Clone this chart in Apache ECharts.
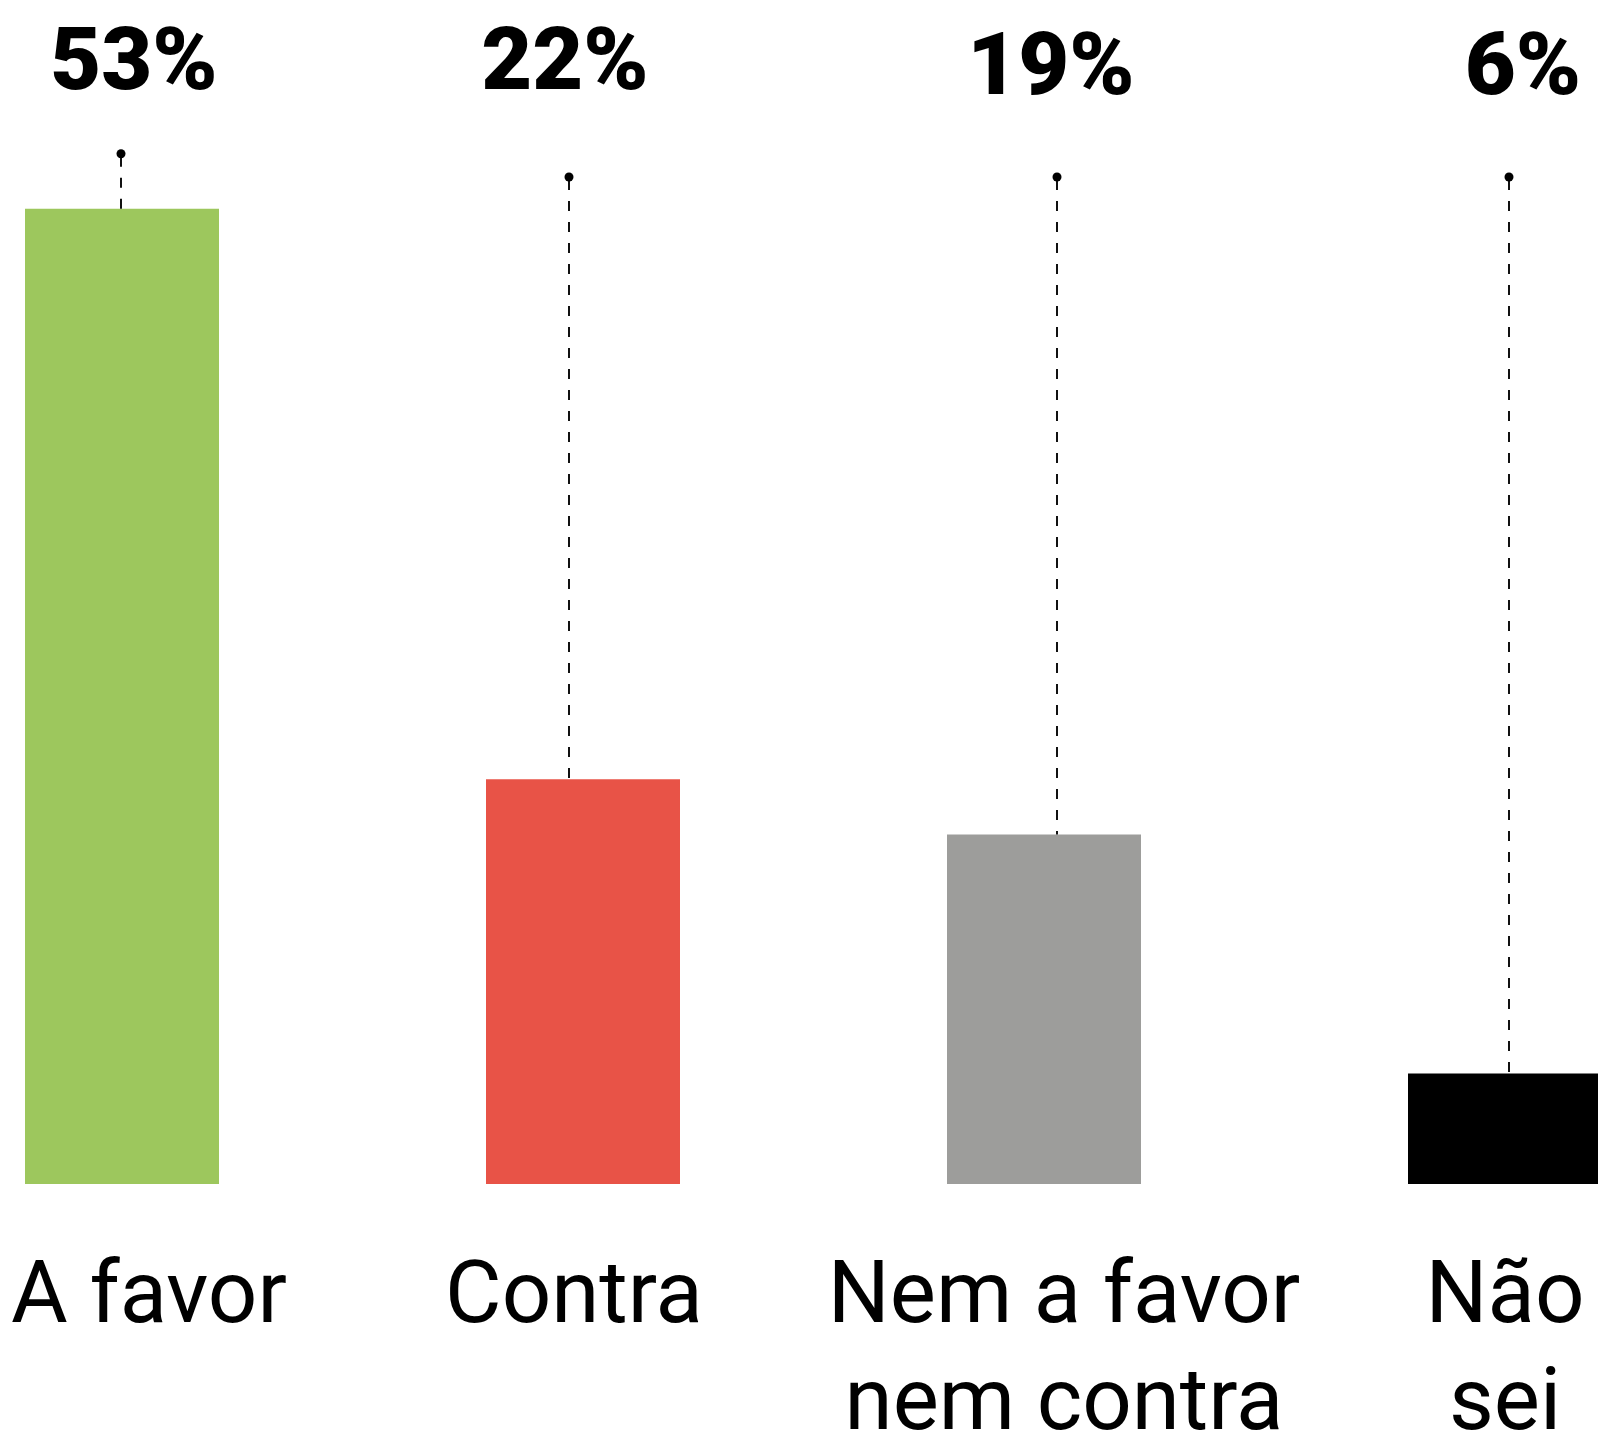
<!DOCTYPE html>
<html>
<head>
<meta charset="utf-8">
<script src="https://cdn.jsdelivr.net/npm/echarts@6/dist/echarts.min.js"></script>
<style>
  html, body { margin: 0; padding: 0; background: #fff; }
  #chart { width: 1598px; height: 1438px; }
</style>
</head>
<body>
<div id="chart"></div>
<script>
// data
const categories = ['A favor', 'Contra', 'Nem a favor\nnem contra', 'Não\nsei'];
const values = [53, 22, 19, 6];
const barColors = ['#9dc75d', '#e85347', '#9d9d9b', '#000000'];

// small nudges (px) so the text and leaders sit where the original puts them
const labelShift = [27, -9, 20, 0];      // category labels
const leaderShift = [-1, -14, 13, 4];     // dashed leader lines
const valueShift = [12, -18, 7, 18];      // percentage labels, x
const valueY = [67, 67, 72, 72];          // percentage labels, y

const chart = echarts.init(document.getElementById('chart'));

const rich = {};
labelShift.forEach(function (s, i) {
  rich['s' + i] = {
    fontFamily: 'Roboto',
    fontSize: 87,
    fontWeight: 400,
    lineHeight: 107,
    color: '#000',
    padding: s > 0 ? [0, 0, 0, 2 * s] : [0, -2 * s, 0, 0]
  };
});

chart.setOption({
  backgroundColor: '#fff',
  animation: false,
  grid: { left: 122, right: 93, top: 80, bottom: 254, outerBoundsMode: 'none' },
  xAxis: {
    type: 'category',
    data: categories,
    boundaryGap: false,
    axisLine: { show: false },
    axisTick: { show: false },
    splitLine: { show: false },
    axisLabel: {
      interval: 0,
      margin: 63,
      fontFamily: 'Roboto',
      fontSize: 87,
      lineHeight: 107,
      color: '#000',
      formatter: function (v, i) { return '{s' + i + '|' + v + '}'; },
      rich: rich
    }
  },
  yAxis: {
    type: 'value',
    min: 0,
    max: 60,
    show: false,
    splitLine: { show: false }
  },
  series: [
    {
      type: 'bar',
      barWidth: 194,
      clip: false,
      data: values.map(function (v, i) {
        return { value: v, itemStyle: { color: barColors[i] } };
      })
    },
    {
      // dashed leader line, dot and percentage above each bar
      type: 'custom',
      clip: false,
      silent: true,
      z: 5,
      data: values.map(function (v, i) { return [i, v]; }),
      encode: { x: 0, y: 1 },
      renderItem: function (params, api) {
        const i = params.dataIndex;
        const p = api.coord([api.value(0), api.value(1)]);
        const cx = p[0] + leaderShift[i];
        const top = p[1];
        const dotY = Math.min(177, top - 55);
        return {
          type: 'group',
          children: [
            {
              type: 'line',
              shape: { x1: cx, y1: dotY + 3, x2: cx, y2: top },
              style: { stroke: '#111', lineWidth: 2, lineDash: [10, 11] }
            },
            {
              type: 'circle',
              shape: { cx: cx, cy: dotY, r: 4.5 },
              style: { fill: '#000' }
            },
            {
              type: 'text',
              x: p[0] + valueShift[i],
              y: valueY[i],
              style: {
                text: api.value(1) + '%',
                fontFamily: 'Roboto',
                fontWeight: 900,
                fontSize: 88,
                fill: '#000',
                align: 'center',
                verticalAlign: 'middle'
              }
            }
          ]
        };
      }
    }
  ]
});

window.onresize = chart.resize;
</script>
</body>
</html>
